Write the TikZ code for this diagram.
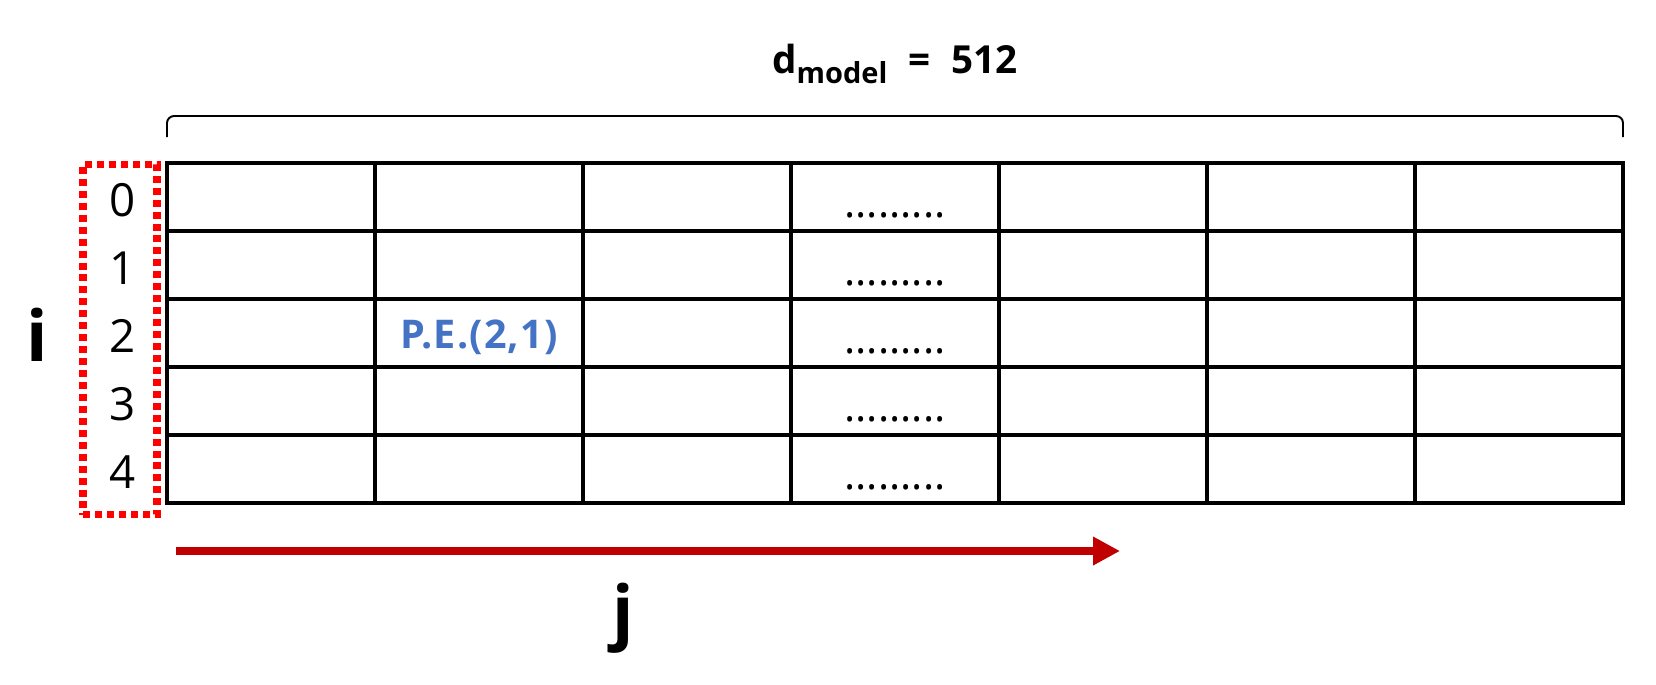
\documentclass[tikz,border=0pt]{standalone}
\usepackage{fontspec}
\setmainfont{Open Sans}
\usetikzlibrary{positioning,arrows.meta}
\definecolor{idxred}{RGB}{255,0,0}
\definecolor{arrred}{RGB}{192,0,0}
\definecolor{peblue}{RGB}{68,114,196}

\begin{document}
\begin{tikzpicture}[x=0.02cm, y=-0.02cm]
		\tikzstyle{cell} = [rectangle, draw, line width = 1.9pt, minimum width = 4.16cm, minimum height = 1.36cm, inner sep = 0pt];
		\tikzstyle{idx} = [inner sep = 0pt, anchor = base, font = \fontsize{26}{30}\selectfont];
		\tikzstyle{dotrow} = [inner sep = 0pt, anchor = base, font = \fontsize{24}{28}\selectfont];
		\tikzstyle{axis} = [inner sep = 0pt, anchor = base, font = \fontsize{40}{44}\selectfont\bfseries];
		\tikzstyle{idxbox} = [rectangle, draw = idxred, line width = 4pt, dash pattern = on 4pt off 2.8pt, minimum width = 1.48cm, minimum height = 7.02cm, inner sep = 0pt];
		\tikzstyle{jpath} = [draw = arrred, line width = 5.1pt, -{Triangle[length = 15.3pt, width = 15.3pt]}];
		\useasboundingbox (0,0) rectangle (1656,684);
		% table of P.E. values
		\foreach \r in {0,...,4} {
			\foreach \c in {0,...,6} {
				\node (cell-\r-\c) [cell] at (271+208*\c, 197+68*\r) {};
			}
			\node (row\r) [idx] at (123, 216+68*\r) {\r};
			\node (dots\r) [dotrow] at (895, 217+68*\r) {.........};
		}
		\node (pe) [inner sep = 0pt, anchor = base, text = peblue, font = \fontsize{22.5}{26}\selectfont\bfseries] at (479, 348) {\addfontfeatures{LetterSpace=3}P.E.(2,1)};
		\node (rows) [idxbox] at (120, 339.5) {};
		\node (i) [axis] at (37, 361) {i};
		% d_model bracket
		\node (dmodel) [inner sep = 0pt, anchor = base, font = \fontsize{22}{26}\selectfont\bfseries] at (895, 73) {d\raisebox{-6pt}{\fontsize{16.5}{19}\selectfont model}\hspace{12pt}=\hspace{12pt}512};
		\coordinate (brl) at (167, 137);
		\coordinate (brr) at (1623, 137);
		\draw [line width = 1.1pt, rounded corners = 4pt] (brl) -- (167, 116) -- (1623, 116) -- (brr);
		% j direction
		\coordinate (jstart) at (176, 551);
		\coordinate (jend) at (1120, 551);
		\path [jpath] (jstart) -- (jend);
		\node (j) [axis] at (623, 636) {j};
	\end{tikzpicture}
\end{document}
